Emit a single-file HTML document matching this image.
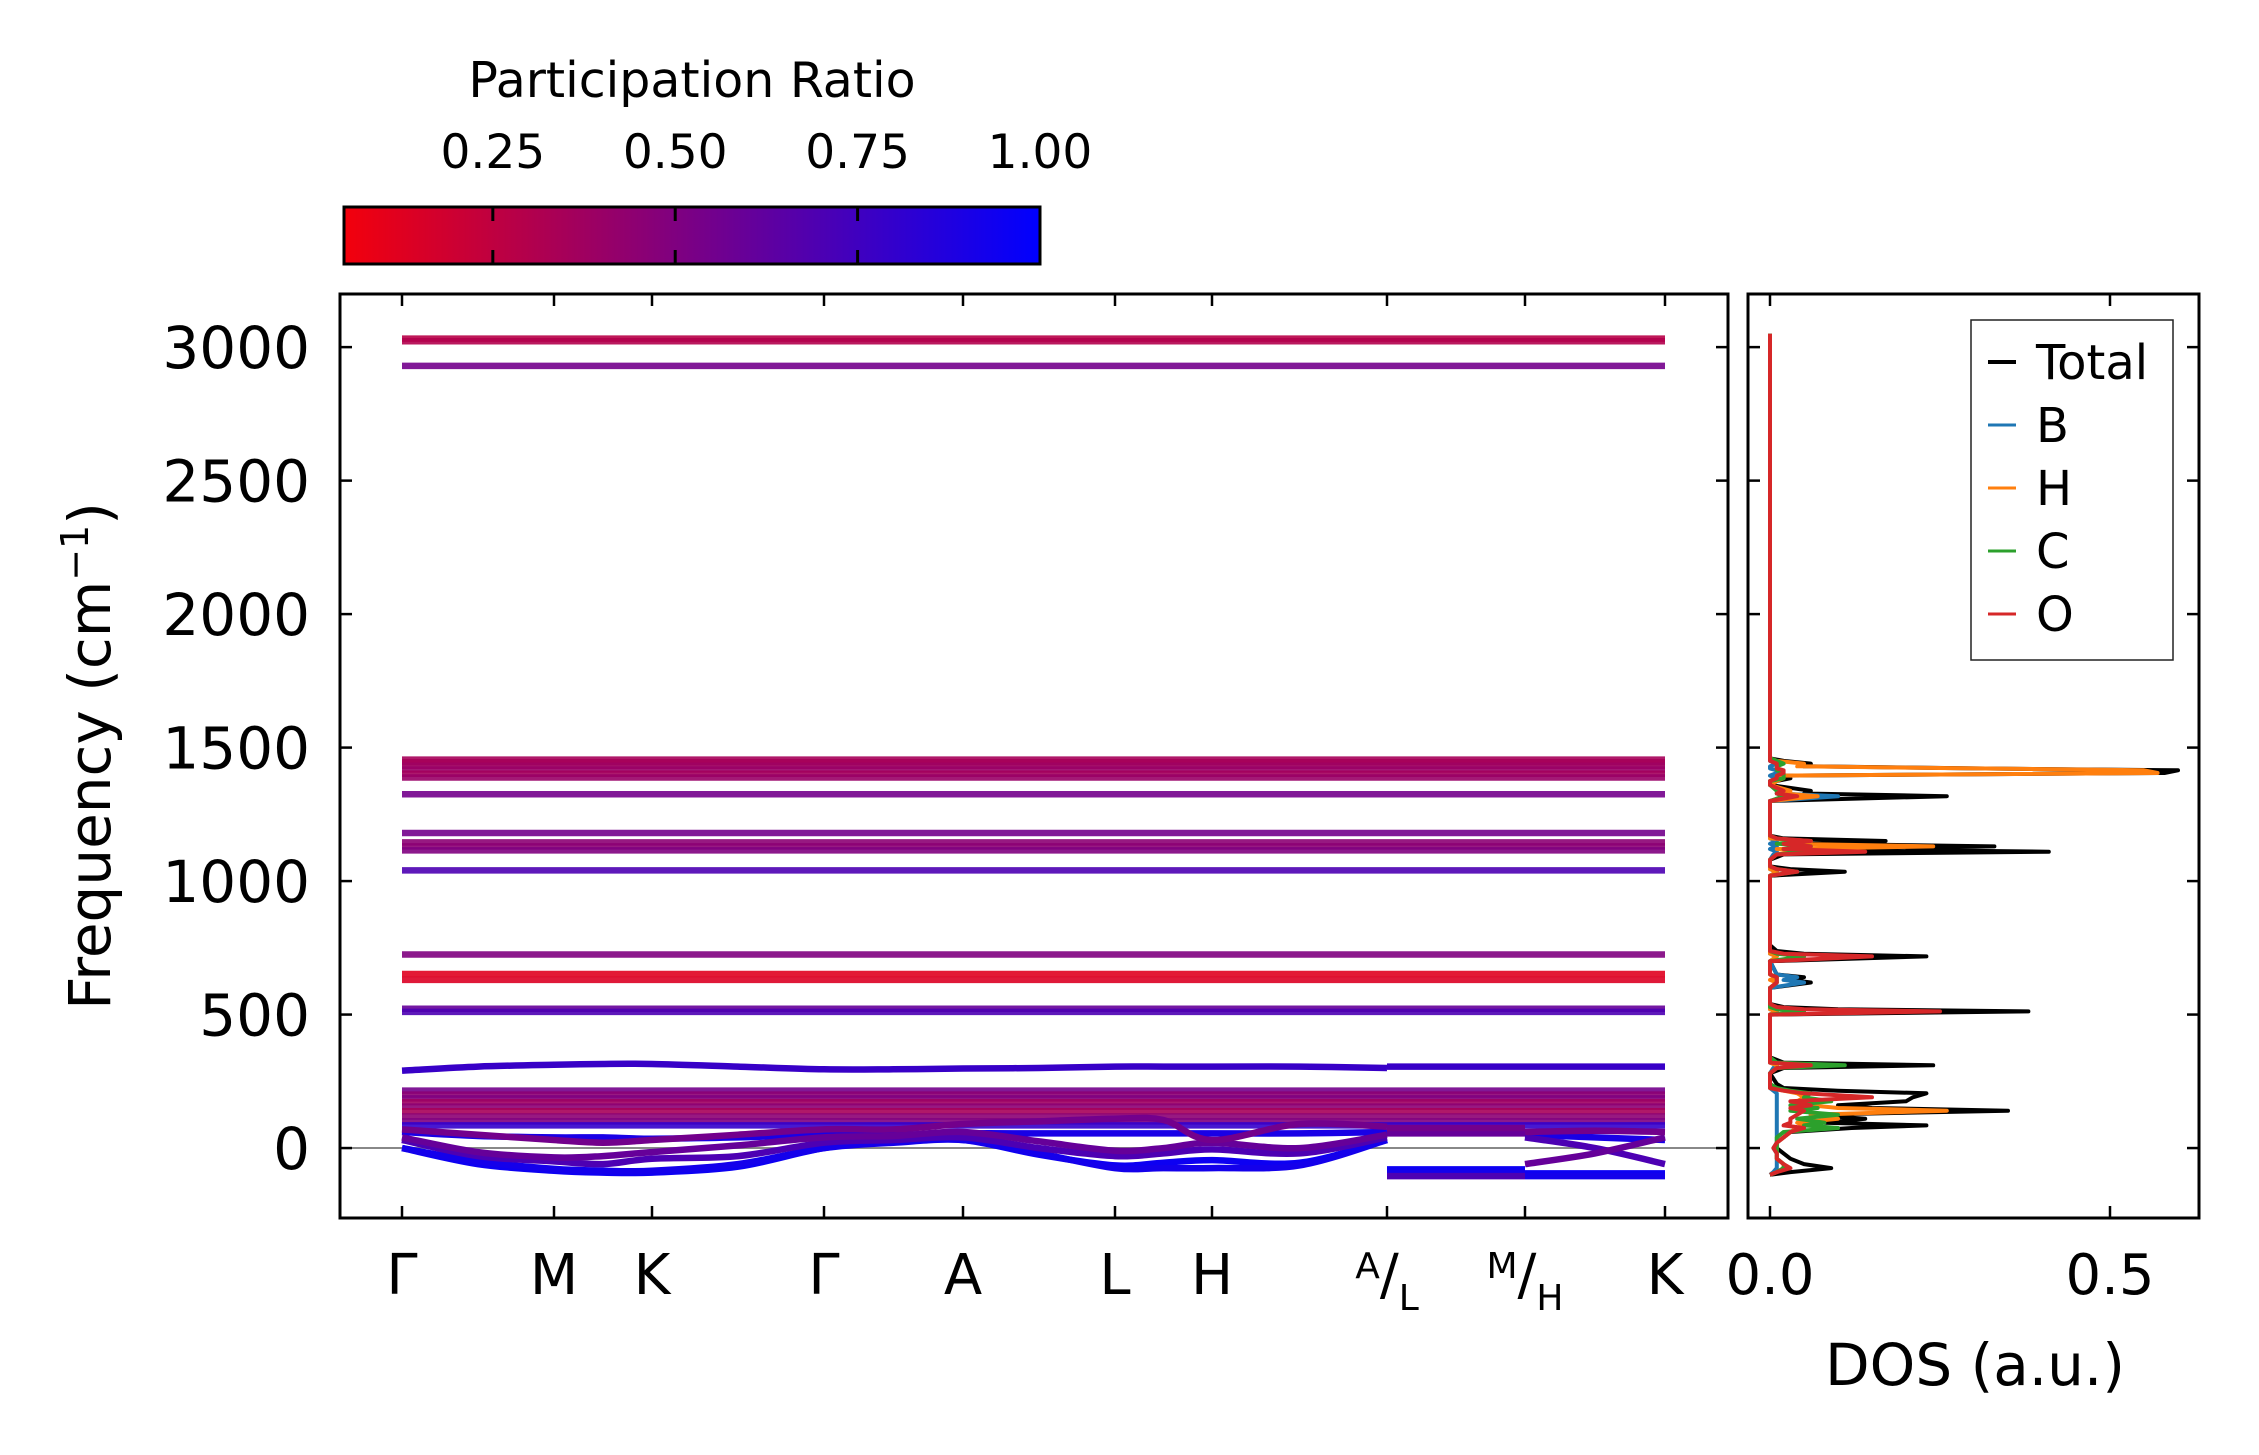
<!DOCTYPE html>
<html><head><meta charset="utf-8">
<style>
html,body{margin:0;padding:0;background:#fff;}
svg{display:block;font-family:"DejaVu Sans","Liberation Sans",sans-serif;}
</style></head>
<body>
<svg id="fig" width="2259" height="1455" viewBox="0 0 2259 1455" xmlns="http://www.w3.org/2000/svg">
<defs>
<linearGradient id="cmap" x1="0" x2="1" y1="0" y2="0">
<stop offset="0" stop-color="rgb(243,0,12)"/><stop offset="1" stop-color="rgb(0,0,255)"/>
</linearGradient>
<clipPath id="mainclip"><rect x="340" y="294" width="1388" height="924"/></clipPath>
<clipPath id="dosclip"><rect x="1748" y="294" width="451" height="924"/></clipPath>
</defs>
<g>
<text x="692" y="97" font-size="49" text-anchor="middle">Participation Ratio</text>
<rect x="344" y="207" width="696" height="57" fill="url(#cmap)" stroke="#000" stroke-width="3"/>
<g id="cbticks"></g>
</g>
<g id="main"></g>
<g id="dos"></g>
<text transform="translate(110,756) rotate(-90)" font-size="58" text-anchor="middle">Frequency (cm<tspan baseline-shift="super" font-size="38">−1</tspan>)</text>
<text x="1975" y="1385" font-size="58" text-anchor="middle">DOS (a.u.)</text>
</svg>
<script>
const NS="http://www.w3.org/2000/svg";
// ---- data ----
const cbTicks=[0.25,0.5,0.75,1.0];
const cbLabels=["0.25","0.50","0.75","1.00"];
const yTicks=[0,500,1000,1500,2000,2500,3000];
const kLabels=["Γ","M","K","Γ","A","L","H","A/L","M/H","K"];
// flat bands: frequency and participation ratio
const flatFreq=[3032,3022,2930,1455,1445,1432,1418,1402,1388,1325,1180,1145,1130,1115,1040,725,652,630,522,510,215,200,186,172,155,138,118,100,85];
const flatPR=[0.28,0.3,0.55,0.35,0.35,0.38,0.4,0.36,0.4,0.55,0.55,0.45,0.45,0.5,0.7,0.5,0.12,0.14,0.6,0.7,0.55,0.45,0.5,0.38,0.45,0.35,0.45,0.5,0.8];
// dispersive bands: values at nodes (seg1: Γ..A 15 nodes, seg2: L..M 3, seg3: H..K 3)
const dispBands=[
 [290,305,312,315,315,305,295,295,298,300,305,305,305,305,300, 305,305,305, 305,305,305],
 [60,45,40,40,35,40,50,50,55,55,55,55,55,55,60, 60,60,60, 50,40,30],
 [0,-60,-85,-92,-92,-70,0,25,30,-25,-65,-55,-45,-55,30, -80,-80,-80, -95,-95,-95],
 [0,-50,-78,-85,-85,-60,0,20,30,-20,-75,-75,-75,-65,30, -92,-92,-92, -105,-105,-105],
 [30,-30,-50,-60,-40,-30,20,30,40,0,-30,-20,-5,-20,40, -105,-105,-105, 40,0,-60],
 [40,-15,-35,-30,-15,10,40,45,60,25,-10,0,20,0,50, 55,55,55, -60,-20,40],
 [70,50,30,20,30,50,70,70,90,100,110,105,30,90,80, 75,75,75, 60,65,60]
];
const dispPR=[0.78,0.9,0.95,0.92,0.7,0.6,0.55];
// DOS
const dosFreq=[-100,-90,-75,-60,-40,-20,0,20,40,60,75,85,95,110,125,140,150,160,175,190,205,215,225,240,280,300,310,320,340,500,512,520,528,540,600,620,630,640,650,700,718,728,738,760,1020,1035,1045,1055,1080,1100,1110,1120,1130,1140,1150,1160,1170,1180,1190,1300,1318,1328,1338,1360,1375,1385,1395,1405,1415,1422,1430,1440,1450,1460,2950,3050];
const dosTotal=[0,0.03,0.09,0.05,0.03,0.02,0.01,0.01,0.02,0.03,0.12,0.23,0.08,0.14,0.06,0.35,0.15,0.1,0.2,0.21,0.23,0.1,0.02,0.01,0,0.02,0.24,0.02,0,0,0.38,0.1,0.02,0,0,0.06,0.03,0.05,0.01,0,0.23,0.05,0.01,0,0,0.11,0.03,0,0,0.02,0.41,0.05,0.33,0.05,0.17,0.02,0,0,0,0,0.26,0.05,0.06,0,0.01,0.03,0.02,0.58,0.6,0.3,0.05,0.06,0.02,0,0,0];
const dosB=[0,0.005,0.01,0.01,0.01,0.01,0.005,0.01,0.01,0.01,0.01,0.01,0.01,0.01,0.01,0.01,0.01,0.01,0.01,0.01,0.01,0.005,0,0,0,0.005,0.01,0,0,0,0.01,0,0,0,0,0.05,0.02,0.04,0.01,0,0.01,0,0,0,0,0.01,0,0,0,0.005,0.01,0,0.01,0,0.01,0,0,0,0,0,0.1,0.01,0.02,0,0,0.01,0,0.01,0.01,0,0,0.01,0,0,0,0];
const dosH=[0,0.01,0.02,0.02,0.01,0.01,0.01,0.01,0.02,0.03,0.04,0.05,0.04,0.1,0.06,0.26,0.1,0.06,0.04,0.05,0.04,0.02,0,0,0,0.01,0.01,0,0,0,0.01,0,0,0,0,0.01,0,0.01,0,0,0.01,0,0,0,0,0.01,0,0,0,0.01,0.05,0.01,0.24,0.02,0.06,0,0,0,0,0,0.07,0.02,0.03,0,0.01,0.02,0.01,0.57,0.55,0.3,0.04,0.05,0.01,0,0,0];
const dosC=[0,0.01,0.02,0.02,0.01,0.01,0.01,0.01,0.01,0.02,0.1,0.05,0.08,0.04,0.1,0.03,0.07,0.03,0.09,0.05,0.06,0.03,0.01,0,0,0.01,0.11,0.01,0,0,0.05,0.01,0,0,0,0.01,0.01,0.01,0,0,0.05,0.01,0,0,0,0.04,0.01,0,0,0.01,0.06,0.02,0.06,0.01,0.05,0.01,0,0,0,0,0.02,0.01,0.01,0,0,0.02,0.02,0.02,0.01,0.01,0.01,0.02,0.01,0,0,0];
const dosO=[0,0.01,0.03,0.02,0.01,0.01,0.005,0.01,0.02,0.03,0.05,0.02,0.03,0.03,0.04,0.05,0.03,0.06,0.03,0.15,0.05,0.02,0,0,0,0.01,0.06,0,0,0,0.25,0.05,0.01,0,0,0.01,0.01,0.01,0,0,0.15,0.02,0,0,0,0.04,0.01,0,0,0.01,0.14,0.02,0.06,0.02,0.06,0.01,0,0,0,0,0.04,0.01,0.02,0,0,0.01,0.01,0.02,0.02,0.01,0.01,0.01,0,0,0,0];
const dosSeries=[["Total",dosTotal,"#000000"],["B",dosB,"#1f77b4"],["H",dosH,"#ff7f0e"],["C",dosC,"#2ca02c"],["O",dosO,"#d62728"]];
const dosXTicks=[0,0.5];
// ---- scales ----
const L=340,R=1728,T=294,B=1218;
const yMin=-262,yMax=3199;
const Y=f=>B-(f-yMin)/(yMax-yMin)*(B-T);
const tickX=[402,554,652,824,963,1115,1212,1387,1525,1665];
const KX=k=>{const i=Math.floor(k);if(i>=9)return tickX[9];return tickX[i]+(k-i)*(tickX[i+1]-tickX[i]);};
const DL=1748,DR=2199;
const DX=v=>1770+v*680;
const CB=v=>344+(v-0.046)/(1-0.046)*696;
const col=p=>`rgb(${Math.round(255*(1-p))},0,${Math.round(255*p)})`;
function mk(tag,attrs,parent){const e=document.createElementNS(NS,tag);for(const k in attrs)e.setAttribute(k,attrs[k]);parent.appendChild(e);return e;}
function smooth(P){let d=`M${P[0][0].toFixed(1)},${P[0][1].toFixed(1)}`;
 for(let i=0;i<P.length-1;i++){const p0=P[Math.max(0,i-1)],p1=P[i],p2=P[i+1],p3=P[Math.min(P.length-1,i+2)];
  const c1=[p1[0]+(p2[0]-p0[0])/6,p1[1]+(p2[1]-p0[1])/6],c2=[p2[0]-(p3[0]-p1[0])/6,p2[1]-(p3[1]-p1[1])/6];
  d+=` C${c1[0].toFixed(1)},${c1[1].toFixed(1)} ${c2[0].toFixed(1)},${c2[1].toFixed(1)} ${p2[0].toFixed(1)},${p2[1].toFixed(1)}`;}
 return d;}
// colorbar ticks
const cbg=document.getElementById('cbticks');
cbTicks.forEach((v,i)=>{
 const x=CB(v);
 if(v<1){const a=mk('line',{x1:x,x2:x,y1:207,y2:221,stroke:'#000','stroke-width':3},cbg);
 
 
 const b=mk('line',{x1:x,x2:x,y1:250,y2:264,stroke:'#000','stroke-width':3},cbg);
 
 }
 const t=mk('text',{x:x,y:168,'font-size':47,'text-anchor':'middle'},cbg);t.textContent=cbLabels[i];
 
 
});
// main panel
const mg=document.getElementById('main');
const bands=mk('g',{'clip-path':'url(#mainclip)'},mg);


mk('line',{x1:L,x2:R,y1:Y(0),y2:Y(0),stroke:'#888','stroke-width':2},bands);
flatFreq.forEach((f,i)=>{
 const l=mk('line',{x1:tickX[0],x2:tickX[9],y1:Y(f),y2:Y(f),stroke:col(flatPR[i]),'stroke-width':6.5,'stroke-opacity':0.9},bands);
 
 
});
const segs=[[0,15,0],[15,18,7],[18,21,8]];
dispBands.forEach((b,bi)=>{
 segs.forEach(([s,e,k0])=>{
  const pts=[];for(let j=s;j<e;j++){pts.push([KX(k0+(j-s)*0.5),Y(b[j])]);}
  const p=mk('path',{d:smooth(pts),fill:'none',stroke:col(dispPR[bi]),'stroke-width':6.5},bands);
  
  
 });
});
mk('rect',{x:L,y:T,width:R-L,height:B-T,fill:'none',stroke:'#000','stroke-width':3},mg);
yTicks.forEach(v=>{
 const y=Y(v);
 mk('line',{x1:L,x2:L+12,y1:y,y2:y,stroke:'#000','stroke-width':2.5},mg);
 mk('line',{x1:R-12,x2:R,y1:y,y2:y,stroke:'#000','stroke-width':2.5},mg);
 const t=mk('text',{x:L-30,y:y+21,'font-size':58,'text-anchor':'end'},mg);t.textContent=v;
 
 
});
kLabels.forEach((lab,i)=>{
 const x=tickX[i];
 mk('line',{x1:x,x2:x,y1:T,y2:T+12,stroke:'#000','stroke-width':2.5},mg);
 mk('line',{x1:x,x2:x,y1:B-12,y2:B,stroke:'#000','stroke-width':2.5},mg);
 const t=mk('text',{x:x,y:1294,'font-size':56,'text-anchor':'middle'},mg);
 
 
 if(lab.includes('/')){const [a,b]=lab.split('/');
  t.innerHTML=`<tspan font-size="36" dy="-16">${a}</tspan><tspan dy="16">/</tspan><tspan font-size="36" dy="16">${b}</tspan>`;}
 else t.textContent=lab;
});
// DOS panel
const dg=document.getElementById('dos');
const curves=mk('g',{'clip-path':'url(#dosclip)'},dg);


dosSeries.forEach(([name,vals,c])=>{
 const pts=dosFreq.map((f,i)=>DX(vals[i]).toFixed(1)+','+Y(f).toFixed(1)).join(' ');
 const p=mk('polyline',{points:pts,fill:'none',stroke:c,'stroke-width':4,'stroke-linejoin':'round'},curves);
 
 
});
mk('rect',{x:DL,y:T,width:DR-DL,height:B-T,fill:'none',stroke:'#000','stroke-width':3},dg);
yTicks.forEach(v=>{const y=Y(v);
 mk('line',{x1:DL,x2:DL+12,y1:y,y2:y,stroke:'#000','stroke-width':2.5},dg);
 mk('line',{x1:DR-12,x2:DR,y1:y,y2:y,stroke:'#000','stroke-width':2.5},dg);});
dosXTicks.forEach(v=>{const x=DX(v);
 mk('line',{x1:x,x2:x,y1:T,y2:T+12,stroke:'#000','stroke-width':2.5},dg);
 mk('line',{x1:x,x2:x,y1:B-12,y2:B,stroke:'#000','stroke-width':2.5},dg);
 const t=mk('text',{x:x,y:1294,'font-size':56,'text-anchor':'middle'},dg);t.textContent=v.toFixed(1);
 
 });
// legend
const lg=mk('g',{},dg);


mk('rect',{x:1971,y:320,width:202,height:340,fill:'#fff',stroke:'#222','stroke-width':1.5},lg);
dosSeries.forEach(([name,vals,c],i)=>{
 const y=362+i*63;
 const l=mk('line',{x1:1988,x2:2016,y1:y,y2:y,stroke:c,'stroke-width':name==='Total'?4:3},lg);
 
 
 const t=mk('text',{x:2036,y:y+17,'font-size':48},lg);t.textContent=name;
 
 
});
</script>
</body></html>
